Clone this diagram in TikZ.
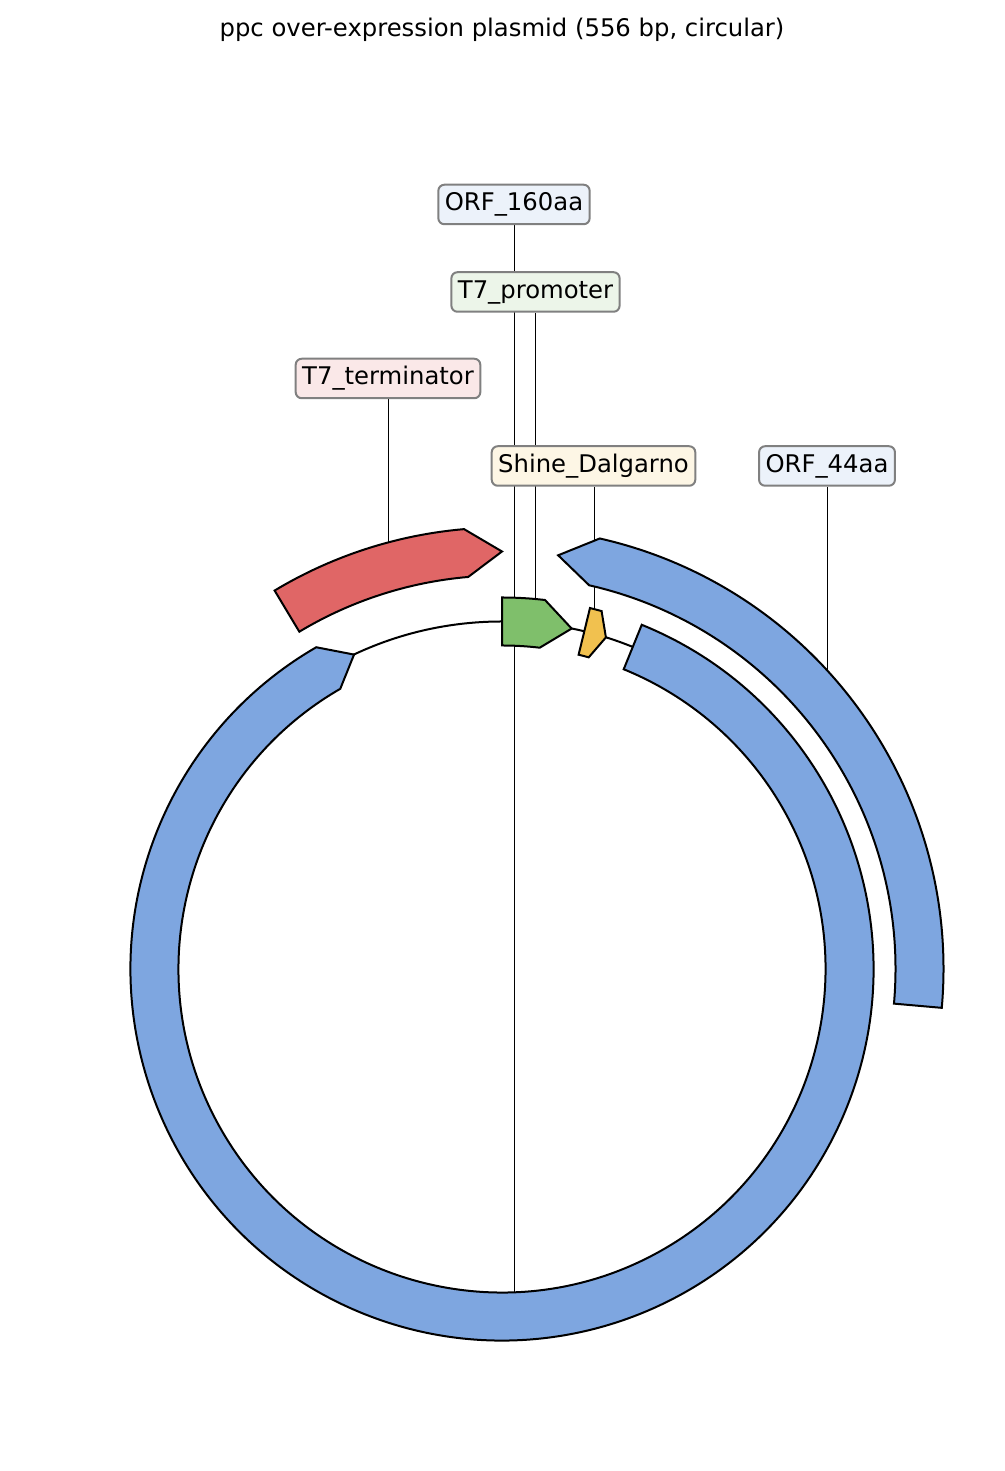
\documentclass[tikz,border=0pt]{standalone}
\usepackage{fontspec}
\setmainfont{DejaVu Sans}
\definecolor{orfblue}{HTML}{7EA6E0}
\definecolor{termred}{HTML}{E06666}
\definecolor{promgreen}{HTML}{7FBF6B}
\definecolor{sdyellow}{HTML}{F1C14F}
\pgfdeclarelayer{leaders}
\pgfdeclarelayer{labels}
\pgfsetlayers{leaders,main,labels}
\begin{document}
\begin{tikzpicture}[x=1pt,y=1pt,
  feature/.style={draw=black, line width=2pt, line join=miter},
  backbone/.style={draw=black, line width=2pt},
  leader/.style={draw=black, line width=1pt},
  lab/.style={draw=black!50, line width=2pt, rounded corners=6pt,
    font=\fontsize{24.3}{29}\selectfont, inner xsep=6.5pt, inner ysep=8pt,
    text height=18pt, text depth=5.5pt},
  titlestyle/.style={font=\fontsize{24.3}{29}\selectfont, inner sep=0pt}
]
\useasboundingbox (0,0) rectangle (1004,1471);
\node[titlestyle] (title) at (502,1441) {ppc over-expression plasmid (556 bp, circular)};

% labels (top layer)
\begin{pgfonlayer}{labels}
\node[lab, fill=orfblue!15] (l160) at (514,1266.5) {ORF\_160aa};
\node[lab, fill=promgreen!15] (lprom) at (535.5,1179) {T7\_promoter};
\node[lab, fill=termred!15] (lterm) at (388,1092.5) {T7\_terminator};
\node[lab, fill=sdyellow!15] (lsd) at (593.5,1005) {Shine\_Dalgarno};
\node[lab, fill=orfblue!15] (l44) at (827,1005) {ORF\_44aa};
\end{pgfonlayer}

% leader end points
\coordinate (e160) at (514,179);
\coordinate (eprom) at (535.5,870);
\coordinate (eterm) at (388,925);
\coordinate (esd) at (594,860);
\coordinate (e44) at (827,798);

\begin{pgfonlayer}{leaders}
\draw[leader] (l160.south) -- (e160);
\draw[leader] (lprom.south) -- (eprom);
\draw[leader] (lterm.south) -- (eterm);
\draw[leader] (lsd.south -| esd) -- (esd);
\draw[leader] (l44.south) -- (e44);
\end{pgfonlayer}

\begin{scope}[shift={(502,502)}]
% backbone
\draw[backbone] (0,0) circle[radius=347.5pt];
% ORF_160aa
\path[feature, fill=orfblue] (67.9:371.5pt) arc[start angle=67.9, end angle=-240, radius=371.5pt]
  -- (-244.8:347.5pt) -- (-240:323.5pt) arc[start angle=-240, end angle=67.9, radius=323.5pt] -- cycle;
% ORF_44aa
\path[feature, fill=orfblue] (77.2:441.5pt) arc[start angle=77.2, end angle=-5.05, radius=441.5pt]
  -- (-5.05:393.5pt) arc[start angle=-5.05, end angle=77.2, radius=393.5pt] -- (82.27:417.5pt) -- cycle;
% T7_terminator
\path[feature, fill=termred] (121:441.5pt) arc[start angle=121, end angle=94.93, radius=441.5pt]
  -- (90:417.5pt) -- (94.93:393.5pt) arc[start angle=94.93, end angle=121, radius=393.5pt] -- cycle;
% T7_promoter
\path[feature, fill=promgreen] (90:371.5pt) arc[start angle=90, end angle=83.35, radius=371.5pt]
  -- (78.44:347.5pt) -- (83.3:323.5pt) arc[start angle=83.3, end angle=90, radius=323.5pt] -- cycle;
% Shine_Dalgarno
\path[feature, fill=sdyellow] (76.3:371.5pt) arc[start angle=76.3, end angle=74.45, radius=371.5pt]
  -- (72.6:347.5pt) -- (74.45:323.5pt) arc[start angle=74.45, end angle=76.3, radius=323.5pt] -- cycle;
\end{scope}
\end{tikzpicture}
\end{document}
